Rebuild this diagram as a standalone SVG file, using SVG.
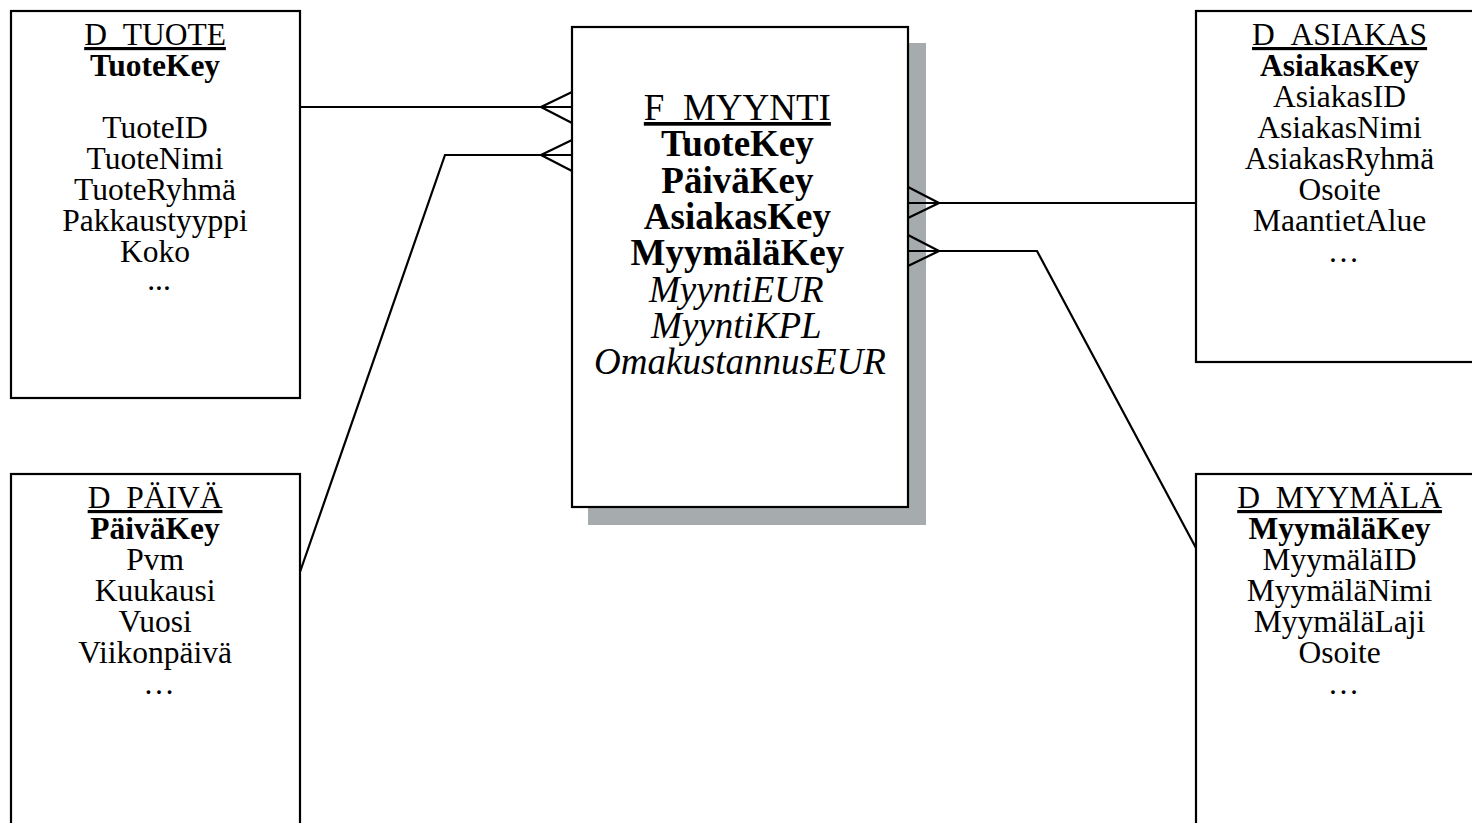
<svg xmlns="http://www.w3.org/2000/svg" width="1472" height="823" viewBox="0 0 1472 823" font-family="'Liberation Serif', Tinos, 'Times New Roman', serif">
  <style>
    .box { fill: #ffffff; stroke: #000000; stroke-width: 2.2; }
    .shadow { fill: #a6abad; stroke: none; }
    .link { fill: none; stroke: #000000; stroke-width: 2.2; stroke-linejoin: miter; }
    text { fill: #000000; text-anchor: middle; }
    .dim { font-size: 31.5px; }
    .fact { font-size: 37px; }
    .title { text-decoration: underline; }
    .key { font-weight: bold; }
    .measure { font-style: italic; }
  </style>

  <rect width="1472" height="823" fill="#ffffff"/>

  <g id="d_tuote">
    <rect class="box" x="11" y="11" width="289" height="387"/>
    <text class="dim">
      <tspan class="title" x="159" y="45">D_TUOTE</tspan>
      <tspan class="key" x="159" y="76">TuoteKey</tspan>
      <tspan x="159" y="138">TuoteID</tspan>
      <tspan x="159" y="169">TuoteNimi</tspan>
      <tspan x="159" y="200">TuoteRyhmä</tspan>
      <tspan x="159" y="231">Pakkaustyyppi</tspan>
      <tspan x="159" y="262">Koko</tspan>
      <tspan x="159" y="290">...</tspan>
    </text>
  </g>

  <g id="d_paiva">
    <rect class="box" x="11" y="474" width="289" height="370"/>
    <text class="dim">
      <tspan class="title" x="159" y="508">D_PÄIVÄ</tspan>
      <tspan class="key" x="159" y="539">PäiväKey</tspan>
      <tspan x="159" y="570">Pvm</tspan>
      <tspan x="159" y="601">Kuukausi</tspan>
      <tspan x="159" y="632">Vuosi</tspan>
      <tspan x="159" y="663">Viikonpäivä</tspan>
      <tspan x="159" y="694">…</tspan>
    </text>
  </g>

  <g id="f_myynti">
    <rect class="shadow" x="588" y="43" width="338" height="482"/>
    <rect class="box" x="572" y="27" width="336" height="480"/>
    <text class="fact">
      <tspan class="title" x="742" y="120">F_MYYNTI</tspan>
      <tspan class="key" x="742" y="156">TuoteKey</tspan>
      <tspan class="key" x="742" y="193">PäiväKey</tspan>
      <tspan class="key" x="742" y="229">AsiakasKey</tspan>
      <tspan class="key" x="742" y="265">MyymäläKey</tspan>
      <tspan class="measure" x="741" y="302">MyyntiEUR</tspan>
      <tspan class="measure" x="741" y="338">MyyntiKPL</tspan>
      <tspan class="measure" x="740" y="374">OmakustannusEUR</tspan>
    </text>
  </g>

  <g id="d_asiakas">
    <rect class="box" x="1196" y="11" width="300" height="351"/>
    <text class="dim">
      <tspan class="title" x="1343.5" y="45">D_ASIAKAS</tspan>
      <tspan class="key" x="1343.5" y="76">AsiakasKey</tspan>
      <tspan x="1343.5" y="107">AsiakasID</tspan>
      <tspan x="1343.5" y="138">AsiakasNimi</tspan>
      <tspan x="1343.5" y="169">AsiakasRyhmä</tspan>
      <tspan x="1343.5" y="200">Osoite</tspan>
      <tspan x="1343.5" y="231">MaantietAlue</tspan>
      <tspan x="1343.5" y="262">…</tspan>
    </text>
  </g>

  <g id="d_myymala">
    <rect class="box" x="1196" y="474" width="300" height="370"/>
    <text class="dim">
      <tspan class="title" x="1343.5" y="508">D_MYYMÄLÄ</tspan>
      <tspan class="key" x="1343.5" y="539">MyymäläKey</tspan>
      <tspan x="1343.5" y="570">MyymäläID</tspan>
      <tspan x="1343.5" y="601">MyymäläNimi</tspan>
      <tspan x="1343.5" y="632">MyymäläLaji</tspan>
      <tspan x="1343.5" y="663">Osoite</tspan>
      <tspan x="1343.5" y="694">…</tspan>
    </text>
  </g>

  <!-- relationship lines; crow's feet sit on the fact table edge, over its shadow -->
  <g id="connectors">
    <path class="link" d="M300,107 H572 M541,107 L572,92 M541,107 L572,123"/>
    <path class="link" d="M300,572 L445,155 H572 M541,155 L572,140 M541,155 L572,171"/>
    <path class="link" d="M1196,203 H908 M939,203 L908,187 M939,203 L908,218"/>
    <path class="link" d="M1196,548 L1037,251 H908 M939,251 L908,235 M939,251 L908,266"/>
  </g>
</svg>
